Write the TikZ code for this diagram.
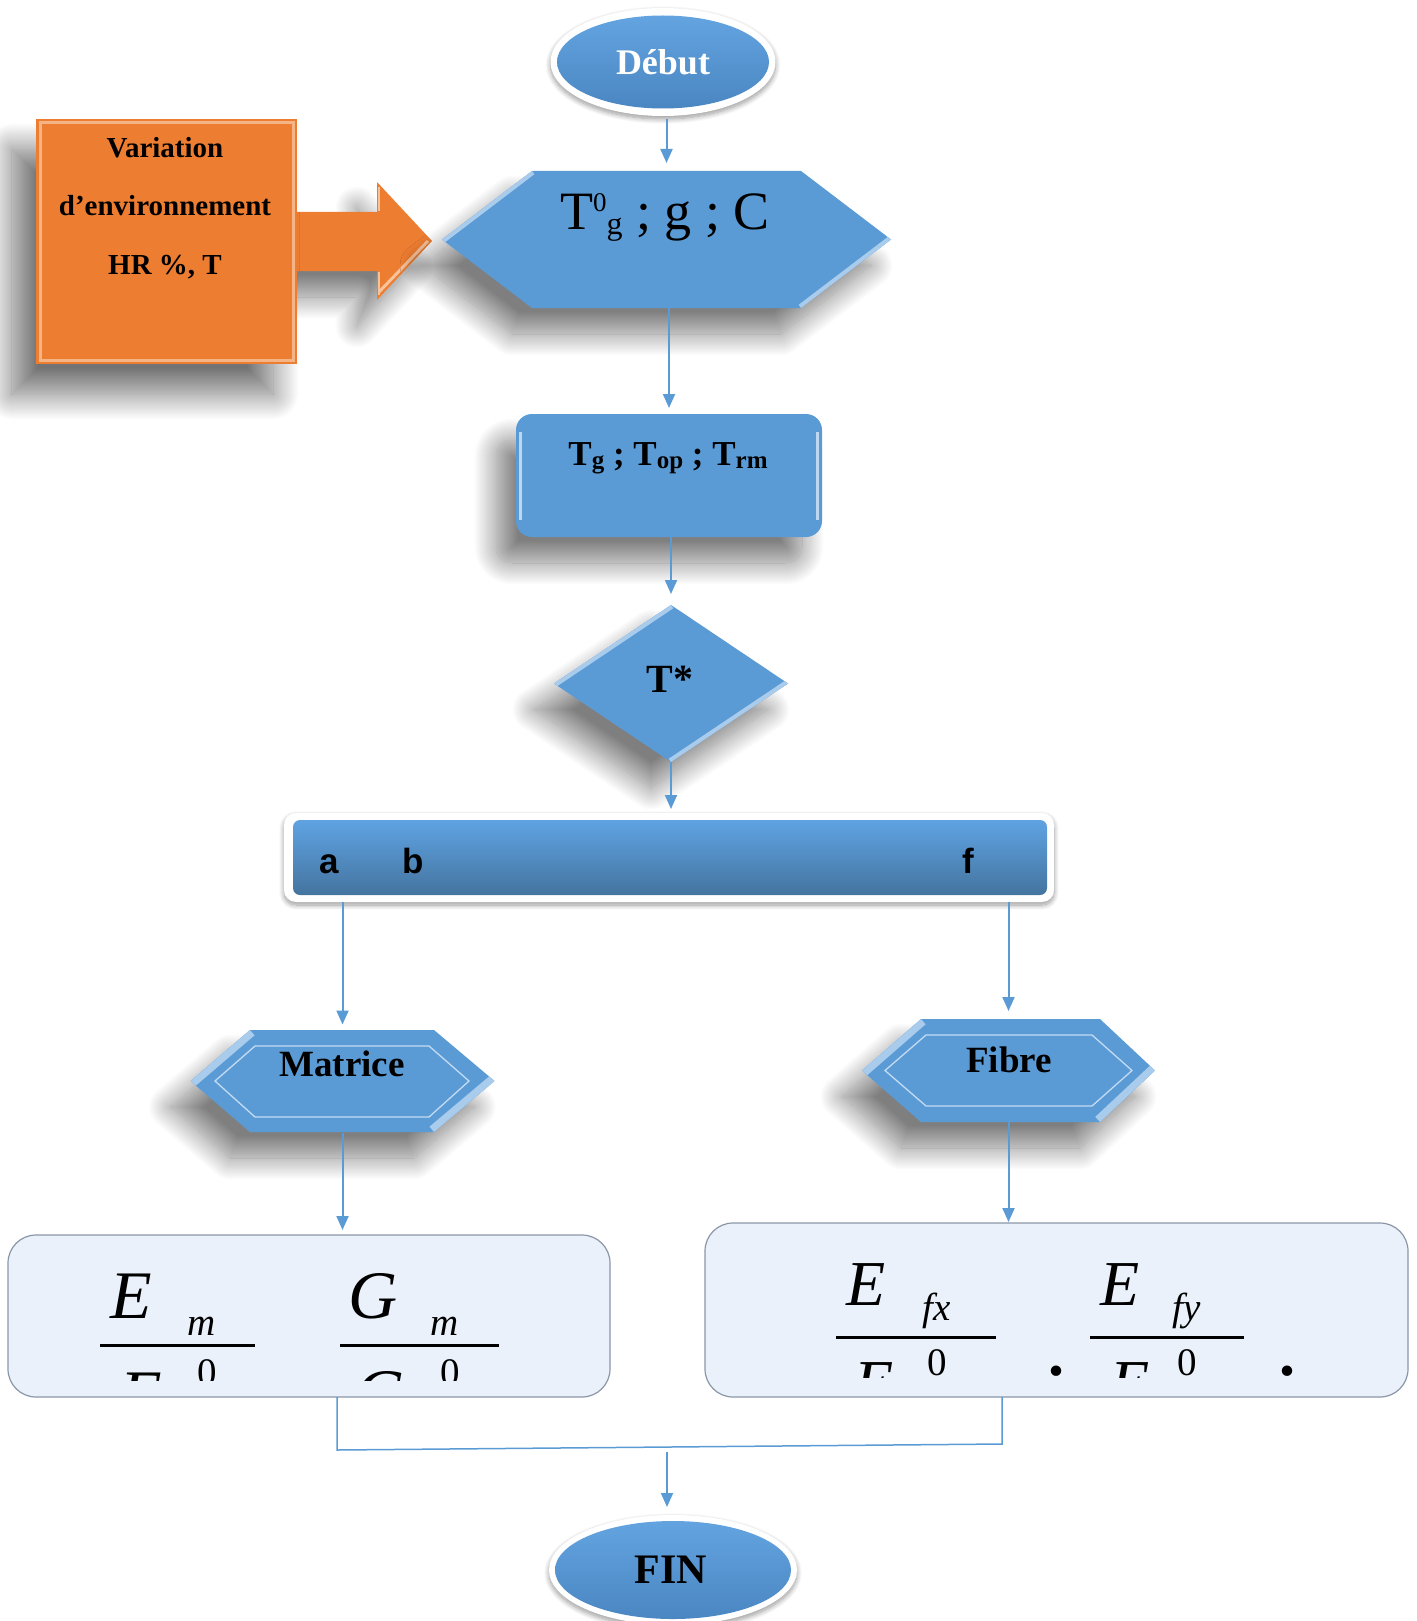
\documentclass[tikz,border=0pt]{standalone}
\usepackage{fontspec}
\setmainfont{Liberation Serif}
\setsansfont{Liberation Sans}
\usetikzlibrary{shapes.geometric,arrows.meta,shadows.blur,calc}
\definecolor{oblue}{HTML}{5B9BD5}
\definecolor{oblueL}{HTML}{A9CBEC}
\definecolor{bluetop}{HTML}{63A4E0}
\definecolor{bluebot}{HTML}{4A86C2}
\definecolor{bartop}{HTML}{5FA3E3}
\definecolor{barmid}{HTML}{5894CC}
\definecolor{barbot}{HTML}{44749F}
\definecolor{oorange}{HTML}{ED7D31}
\definecolor{oorangeL}{HTML}{F8C29A}
\definecolor{pale}{HTML}{EAF1FA}
\definecolor{paleedge}{HTML}{8A96A8}
\newcommand\mysub[1]{\raisebox{-3pt}{\fontsize{25}{28}\selectfont #1}}
\tikzset{
  sized/.style 2 args={inner sep=0pt, outer sep=0pt, minimum width=#1, minimum height=#2},
  softshadow/.style={blur shadow={shadow xshift=-20pt, shadow yshift=-26pt, shadow blur radius=22pt, shadow blur steps=24, shadow opacity=50}},
  bigshadow/.style={blur shadow={shadow xshift=-24pt, shadow yshift=-30pt, shadow blur radius=26pt, shadow blur steps=24, shadow opacity=55}},
  ringshadow/.style={blur shadow={shadow xshift=0pt, shadow yshift=-3pt, shadow blur radius=5pt, shadow blur steps=10, shadow opacity=40}},
  conn/.style={draw=oblue, line width=2pt, -{Triangle[length=14pt,width=12pt]}},
  joinline/.style={draw=oblue, line width=1.5pt},
  bevel/.style={draw=oblueL, line width=8pt},
  btxt/.style={anchor=base, inner sep=0pt, font=\bfseries\fontsize{#1}{#1}\selectfont},
  stxt/.style={anchor=base, inner sep=0pt, font=\sffamily\bfseries\fontsize{35}{36}\selectfont},
  eqtxt/.style={anchor=base west, inner sep=0pt, font=\itshape\fontsize{#1}{#1}\selectfont},
  eqnum/.style={anchor=base west, inner sep=0pt, font=\fontsize{#1}{#1}\selectfont},
}
\begin{document}
\begin{tikzpicture}[x=1pt,y=-1pt]
\useasboundingbox (0,0) rectangle (1416,1621);

% ---------- Debut ----------
\node[ellipse, sized={225pt}{108pt}, fill=white, ringshadow] (debring) at (663,62) {};
\node[ellipse, sized={212pt}{93pt}, top color=bluetop, bottom color=bluebot] (debut) at (663,62) {};
\node[btxt=36, text=white] (debtxt) at (663,75) {Début};

% ---------- orange block arrow + box ----------
\node[sized={261pt}{245pt}] (env) at (166.5,241.5) {};
\path[fill=oorange, softshadow] (env.east |- 0,212) -- (377,212) -- (377,182) -- (432,241)
   -- (377,300) -- (377,271) -- (env.east |- 0,271) -- cycle;
\draw[oorangeL, line width=3pt] (379,292) -- (428,241);
\draw[oorangeL, line width=2pt] (378.5,187) -- (378.5,211);
\draw[oorangeL, line width=2pt] (378.5,272) -- (378.5,295);
\path[fill=oorange, bigshadow] (env.north west) rectangle (env.south east);
\draw[oorangeL, line width=3pt, opacity=.8] ([shift={(4,4)}]env.north west) rectangle ([shift={(-4,-4)}]env.south east);
\node[btxt=29] (v1) at (165,158) {Variation};
\node[btxt=29] (v2) at (165,216) {d’environnement};
\node[btxt=29] (v3) at (165,274) {HR \%, T};

% ---------- T0g hexagon ----------
\node[sized={449pt}{137pt}] (hexT) at (666.5,239.5) {};
\path[fill=oblue, softshadow] (hexT.west) -- (532,171) -- (801,171) -- (hexT.east) -- (801,308) -- (532,308) -- cycle;
\begin{scope}
  \clip (hexT.west) -- (532,171) -- (801,171) -- (hexT.east) -- (801,308) -- (532,308) -- cycle;
  \draw[bevel] (hexT.west) -- (532,171);
  \draw[bevel] (hexT.east) -- (801,308);
\end{scope}
\node[anchor=base, inner sep=0pt, font=\fontsize{54}{60}\selectfont] (hexTtxt) at (665,230)
  {T\raisebox{18pt}{\fontsize{27}{30}\selectfont 0}\raisebox{-5pt}{\fontsize{32}{34}\selectfont g} ; g ; C};

% ---------- Tg rectangle ----------
\node[sized={306pt}{123pt}, rounded corners=16pt, fill=oblue, softshadow] (tg) at (669,475.5) {};
\draw[white, opacity=.6, line width=2.5pt] (520.5,432) -- (520.5,520);
\draw[white, opacity=.6, line width=2.5pt] (817.5,432) -- (817.5,520);
\node[btxt=35] (tgtxt) at (668,465) {T\mysub{g} ; T\mysub{op} ; T\mysub{rm}};

% ---------- diamond ----------
\node[diamond, aspect=1.49, sized={234pt}{157pt}, fill=oblue, softshadow] (dia) at (671,683.5) {};
\begin{scope}
  \clip (dia.west) -- (dia.north) -- (dia.east) -- (dia.south) -- cycle;
  \draw[bevel] (dia.west) -- (dia.north);
  \draw[bevel] (dia.east) -- (dia.south);
\end{scope}
\node[btxt=40] (diatxt) at (670,692) {T*};

% ---------- bar ----------
\node[sized={770pt}{89pt}, rounded corners=12pt, fill=white, ringshadow] (barout) at (669,857.5) {};
\node[sized={754pt}{75pt}, rounded corners=7pt, top color=bartop, middle color=barmid, bottom color=barbot] (bar) at (670,857.5) {};
\node[stxt] (la) at (329,873) {a};
\node[stxt] (lb) at (413,873) {b};
\node[stxt] (lf) at (968,873) {f};

% ---------- Matrice hexagon ----------
\node[sized={304pt}{103pt}] (mat) at (342.5,1081) {};
\path[fill=oblue, softshadow] (mat.west) -- (250,1030) -- (434,1030) -- (mat.east) -- (434,1132) -- (250,1132) -- cycle;
\begin{scope}
  \clip (mat.west) -- (250,1030) -- (434,1030) -- (mat.east) -- (434,1132) -- (250,1132) -- cycle;
  \draw[bevel, line width=14pt] (mat.west) -- (250,1030);
  \draw[bevel, line width=14pt] (mat.east) -- (434,1132);
\end{scope}
\draw[oblueL!70!white, line width=1.3pt] (215,1081) -- (255,1046) -- (429,1046) -- (469,1081) -- (429,1117) -- (255,1117) -- cycle;
\node[btxt=37] (mattxt) at (342,1076) {Matrice};

% ---------- Fibre hexagon ----------
\node[sized={293pt}{103pt}] (fibh) at (1008.5,1070.5) {};
\path[fill=oblue, softshadow] (fibh.west) -- (921,1019) -- (1100,1019) -- (fibh.east) -- (1100,1122) -- (921,1122) -- cycle;
\begin{scope}
  \clip (fibh.west) -- (921,1019) -- (1100,1019) -- (fibh.east) -- (1100,1122) -- (921,1122) -- cycle;
  \draw[bevel, line width=14pt] (fibh.west) -- (921,1019);
  \draw[bevel, line width=14pt] (fibh.east) -- (1100,1122);
\end{scope}
\draw[oblueL!70!white, line width=1.3pt] (885,1070.5) -- (926,1035) -- (1092,1035) -- (1132,1070.5) -- (1092,1106) -- (926,1106) -- cycle;
\node[btxt=37] (fibtxt) at (1009,1072) {Fibre};

% ---------- result boxes ----------
\node[sized={602pt}{162pt}, rounded corners=28pt, fill=pale, draw=paleedge, line width=1.2pt] (emb) at (309,1316) {};
\node[sized={703pt}{174pt}, rounded corners=28pt, fill=pale, draw=paleedge, line width=1.2pt] (fib) at (1056.5,1310) {};

\begin{scope}
  \clip (8,1235) rectangle (610,1380);
  \node[eqtxt=68] (e1) at (110,1318) {E};
  \node[eqtxt=39] (e1s) at (187,1335) {m};
  \draw[line width=3pt] (100,1345) -- (255,1345);
  \node[eqtxt=68] (e1d) at (120,1417) {E};
  \node[eqnum=39] (e1z) at (197,1385) {0};
  \node[eqtxt=68] (g1) at (348,1318) {G};
  \node[eqtxt=39] (g1s) at (430,1335) {m};
  \draw[line width=3pt] (340,1345) -- (499,1345);
  \node[eqtxt=68] (g1d) at (355,1416) {G};
  \node[eqnum=39] (g1z) at (440,1385) {0};
\end{scope}

\begin{scope}
  \clip (705,1223) rectangle (1408,1377);
  \node[eqtxt=64] (e2) at (846,1305) {E};
  \node[eqtxt=39] (e2s) at (922,1320) {fx};
  \draw[line width=3pt] (836,1337) -- (996,1337);
  \node[eqtxt=64] (e2d) at (854,1404) {E};
  \node[eqnum=39] (e2z) at (927,1375) {0};
  \node[btxt=64] (dot1) at (1056,1375) {.};
  \node[eqtxt=64] (e3) at (1100,1305) {E};
  \node[eqtxt=39] (e3s) at (1172,1320) {fy};
  \draw[line width=3pt] (1090,1337) -- (1244,1337);
  \node[eqtxt=64] (e3d) at (1110,1404) {E};
  \node[eqnum=39] (e3z) at (1177,1375) {0};
  \node[btxt=64] (dot2) at (1287,1375) {.};
\end{scope}

% ---------- FIN ----------
\node[ellipse, sized={248pt}{110pt}, fill=white, ringshadow] (finring) at (673,1570) {};
\node[ellipse, sized={236pt}{98pt}, top color=bluetop, bottom color=bluebot] (fin) at (673,1570) {};
\node[btxt=42] (fintxt) at (671,1583) {FIN};

% ---------- connectors ----------
\draw[conn, shorten <=3pt, shorten >=8pt] (hexT.north |- debring.south) -- (hexT.north);
\draw[conn, shorten >=6pt] (tg.north |- hexT.south) -- (tg.north);
\draw[conn, shorten >=11pt] (dia.north |- tg.south) -- (dia.north);
\draw[conn, shorten >=4pt] (dia.south) -- (dia.south |- barout.north);
\draw[conn, shorten >=5pt] (barout.south -| mat.north) -- (mat.north);
\draw[conn, shorten >=8pt] (barout.south -| fibh.north) -- (fibh.north);
\draw[conn, shorten >=5pt] (mat.south) -- (mat.south |- emb.north);
\draw[conn, shorten >=1pt] (fibh.south) -- (fibh.south |- fib.north);
\coordinate (ml) at (337,1450);
\coordinate (mr) at (1002,1444);
\coordinate (ms) at (667,1452);
\draw[joinline] (emb.south -| ml) -- (ml) -- (mr) -- (fib.south -| mr);
\draw[conn, shorten >=8pt] (ms) -- (ms |- finring.north);
\end{tikzpicture}
\end{document}
